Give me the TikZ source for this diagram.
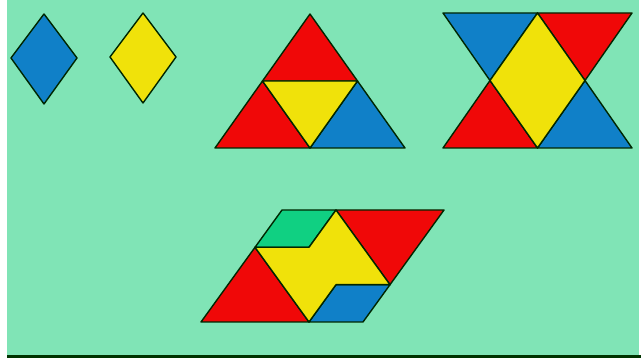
\documentclass[tikz,border=0pt]{standalone}
\definecolor{bg}{RGB}{128,228,182}
\definecolor{pblue}{RGB}{16,128,200}
\definecolor{pred}{RGB}{240,8,8}
\definecolor{pyellow}{RGB}{240,226,10}
\definecolor{pgreen}{RGB}{16,208,130}
\tikzset{
  piece/.style={draw=black!85!green, line width=1.4pt, line join=round},
  bluep/.style={piece, fill=pblue},
  redp/.style={piece, fill=pred},
  yellowp/.style={piece, fill=pyellow},
  greenp/.style={piece, fill=pgreen}
}
\begin{document}
\begin{tikzpicture}[x=1pt,y=-1pt]
\useasboundingbox (0,0) rectangle (641,358);
\fill[white] (0,0) rectangle (641,358);
\fill[bg] (7,0) rectangle (639,355);
\fill[black!80!green] (7,355) rectangle (641,358);
% single rhombi
\path[bluep] (44,14) -- (77,58) -- (44,104) -- (11,58) -- cycle;
\path[yellowp] (143,13) -- (176,57) -- (143,103) -- (110,57) -- cycle;
% big triangle
\path[redp] (310,14) -- (357.5,81) -- (262.5,81) -- cycle;
\path[redp] (262.5,81) -- (310,148) -- (215,148) -- cycle;
\path[bluep] (357.5,81) -- (405,148) -- (310,148) -- cycle;
\path[yellowp] (262.5,81) -- (357.5,81) -- (310,148) -- cycle;
% hourglass
\path[bluep] (443,13) -- (537.5,13) -- (490,80.5) -- cycle;
\path[redp] (537.5,13) -- (632,13) -- (585,80.5) -- cycle;
\path[redp] (490,80.5) -- (537.5,148) -- (443,148) -- cycle;
\path[bluep] (585,80.5) -- (632,148) -- (537.5,148) -- cycle;
\path[yellowp] (537.5,13) -- (585,80.5) -- (537.5,148) -- (490,80.5) -- cycle;
% parallelogram
\path[greenp] (282,210) -- (336,210) -- (309,247.3) -- (255,247.3) -- cycle;
\path[redp] (255,247.3) -- (309,322) -- (201,322) -- cycle;
\path[redp] (336,210) -- (444,210) -- (390,284.7) -- cycle;
\path[bluep] (336,284.7) -- (390,284.7) -- (363,322) -- (309,322) -- cycle;
\path[yellowp] (336,210) -- (390,284.7) -- (336,284.7) -- (309,322) -- (255,247.3) -- (309,247.3) -- cycle;
\end{tikzpicture}
\end{document}
